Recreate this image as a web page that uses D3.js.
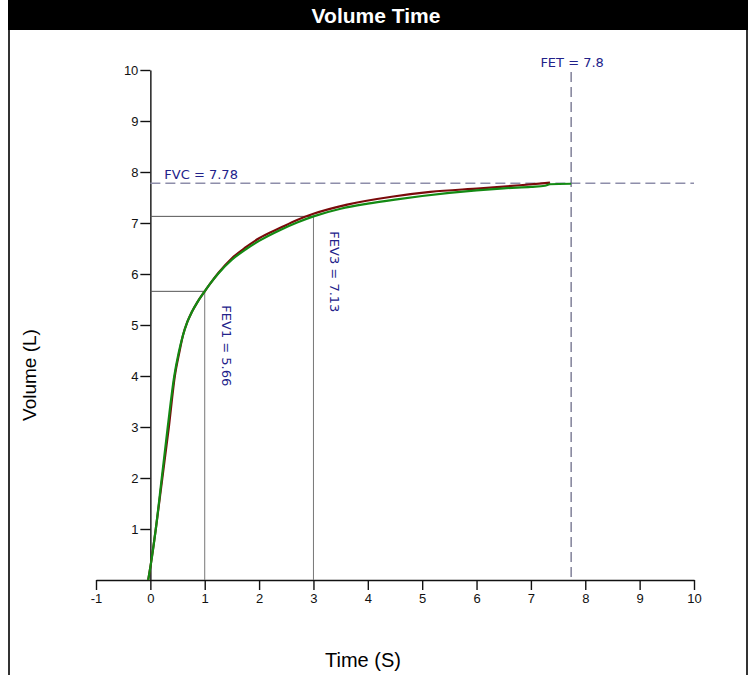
<!DOCTYPE html>
<html>
<head>
<meta charset="utf-8">
<script src="https://cdn.jsdelivr.net/npm/d3@7"></script>
<style>
  body { margin: 0; background: #fff; }
  svg { display: block; }
</style>
</head>
<body>
<svg id="chart" width="752" height="675"></svg>
<script>
// data
const xTicks = [-1, 0, 1, 2, 3, 4, 5, 6, 7, 8, 9, 10]
const yTicks = [1, 2, 3, 4, 5, 6, 7, 8, 9, 10]

// green trial (seconds, litres)
const greenTime = [-0.04, 0.02, 0.10, 0.21, 0.32, 0.44, 0.52, 0.60, 0.68, 0.76, 0.86, 1.00, 1.10, 1.25, 1.50, 1.75, 2.00, 2.40, 2.70, 3.00, 3.50, 4.00, 4.50, 5.00, 5.50, 6.00, 6.50, 7.00, 7.26, 7.35, 7.74]
const greenVol = [0, 0.39, 1.0, 2.0, 3.0, 4.0, 4.45, 4.8, 5.06, 5.25, 5.44, 5.66, 5.81, 6.01, 6.28, 6.48, 6.65, 6.87, 7.01, 7.13, 7.28, 7.38, 7.46, 7.53, 7.59, 7.64, 7.68, 7.71, 7.73, 7.76, 7.77]

// dark red trial
const redTime = [-0.04, 0.02, 0.10, 0.22, 0.34, 0.45, 0.53, 0.60, 0.68, 0.76, 0.86, 1.00, 1.10, 1.25, 1.50, 1.75, 2.00, 2.40, 2.70, 3.00, 3.62, 4.47, 5.15, 6.07, 6.80, 7.35]
const redVol = [0, 0.39, 1.0, 2.0, 3.0, 4.0, 4.45, 4.8, 5.06, 5.25, 5.44, 5.66, 5.81, 6.02, 6.31, 6.52, 6.70, 6.91, 7.06, 7.18, 7.36, 7.52, 7.61, 7.68, 7.74, 7.79]

// markers
const fvc = 7.78, fvcLabel = 'FVC = 7.78'
const fetLine = 7.74, fetLabel = 'FET = 7.8'
const fev1Time = 1, fev1 = 5.66, fev1Label = 'FEV1 = 5.66'
const fev3Time = 3, fev3 = 7.13, fev3Label = 'FEV3 = 7.13'

const width = 752, height = 675
const svg = d3.select('#chart')

// scales
const x = d3.scaleLinear().domain([-1, 10]).range([96, 694])
const y = d3.scaleLinear().domain([0, 10]).range([580, 70])

// frame + title bar
svg.append('rect')
  .attr('x', 8).attr('y', 0).attr('width', 740).attr('height', 30)
  .attr('fill', '#000')
svg.append('line')
  .attr('x1', 9).attr('x2', 9).attr('y1', 30).attr('y2', height)
  .attr('stroke', '#333').attr('stroke-width', 2)
svg.append('line')
  .attr('x1', 747).attr('x2', 747).attr('y1', 30).attr('y2', height)
  .attr('stroke', '#333').attr('stroke-width', 2)
svg.append('text')
  .attr('x', 376).attr('y', 23)
  .attr('text-anchor', 'middle')
  .style('font-family', 'Liberation Sans, Arial, sans-serif')
  .style('font-weight', 'bold')
  .style('font-size', '21px')
  .attr('fill', '#fff')
  .text('Volume Time')

// axes
const fmt = d => String(d) // plain hyphen for -1
const yAxis = svg.append('g')
  .attr('transform', 'translate(' + x(0) + ',0)')
  .call(d3.axisLeft(y).tickValues(yTicks).tickFormat(fmt).tickSize(10).tickSizeOuter(0).tickPadding(2))
const xAxis = svg.append('g')
  .attr('transform', 'translate(0,' + y(0) + ')')
  .call(d3.axisBottom(x).tickValues(xTicks).tickFormat(fmt).tickSize(10).tickSizeOuter(0).tickPadding(4))

;[xAxis, yAxis].forEach(function (g) {
  g.selectAll('path, line').attr('stroke', '#111').attr('stroke-width', 1.4)
  g.selectAll('text')
    .style('font-family', 'Liberation Sans, Arial, sans-serif')
    .style('font-size', '13px')
    .attr('fill', '#111')
})

// axis titles
svg.append('text')
  .attr('transform', 'translate(36,375) rotate(-90)')
  .attr('text-anchor', 'middle')
  .style('font-family', 'Liberation Sans, Arial, sans-serif')
  .style('font-size', '19px')
  .text('Volume (L)')
svg.append('text')
  .attr('x', 363).attr('y', 667)
  .attr('text-anchor', 'middle')
  .style('font-family', 'Liberation Sans, Arial, sans-serif')
  .style('font-size', '20px')
  .text('Time (S)')

const annoFont = 'DejaVu Sans, Verdana, sans-serif'
const annoColor = '#22228a'

// fev guide lines
;[[fev1Time, fev1], [fev3Time, fev3]].forEach(function (d) {
  svg.append('line')
    .attr('x1', x(0)).attr('x2', x(d[0]))
    .attr('y1', y(d[1])).attr('y2', y(d[1]))
    .attr('stroke', '#555').attr('stroke-width', 1)
  svg.append('line')
    .attr('x1', x(d[0])).attr('x2', x(d[0]))
    .attr('y1', y(d[1])).attr('y2', y(0))
    .attr('stroke', '#777').attr('stroke-width', 1)
})

// fvc / fet dashed lines
svg.append('line')
  .attr('x1', x(0)).attr('x2', x(10))
  .attr('y1', y(fvc)).attr('y2', y(fvc))
  .attr('stroke', '#8e8eaa').attr('stroke-width', 1.5)
  .attr('stroke-dasharray', '10,5')
svg.append('line')
  .attr('x1', x(fetLine)).attr('x2', x(fetLine))
  .attr('y1', 72).attr('y2', y(0))
  .attr('stroke', '#6e6e8a').attr('stroke-width', 1.3)
  .attr('stroke-dasharray', '10,5')

// curves
const line = d3.line()
  .x(d => x(d[0]))
  .y(d => y(d[1]))
  .curve(d3.curveMonotoneX)

svg.append('path')
  .datum(d3.zip(redTime, redVol))
  .attr('fill', 'none')
  .attr('stroke', '#7a0a0a')
  .attr('stroke-width', 2.2)
  .attr('d', line)
svg.append('path')
  .datum(d3.zip(greenTime, greenVol))
  .attr('fill', 'none')
  .attr('stroke', '#138a13')
  .attr('stroke-width', 2.2)
  .attr('d', line)

// labels
svg.append('text')
  .attr('x', x(0) + 14).attr('y', y(fvc) - 4)
  .style('font-family', annoFont).style('font-size', '13px')
  .attr('fill', annoColor)
  .text(fvcLabel)
svg.append('text')
  .attr('x', x(fetLine) + 1).attr('y', 67)
  .attr('text-anchor', 'middle')
  .style('font-family', annoFont).style('font-size', '13px')
  .attr('fill', annoColor)
  .text(fetLabel)
svg.append('text')
  .attr('transform', 'translate(' + (x(fev1Time) + 17) + ',' + (y(fev1) + 14) + ') rotate(90)')
  .style('font-family', annoFont).style('font-size', '13px')
  .attr('fill', annoColor)
  .text(fev1Label)
svg.append('text')
  .attr('transform', 'translate(' + (x(fev3Time) + 17) + ',' + (y(fev3) + 15) + ') rotate(90)')
  .style('font-family', annoFont).style('font-size', '13px')
  .attr('fill', annoColor)
  .text(fev3Label)
</script>
</body>
</html>
